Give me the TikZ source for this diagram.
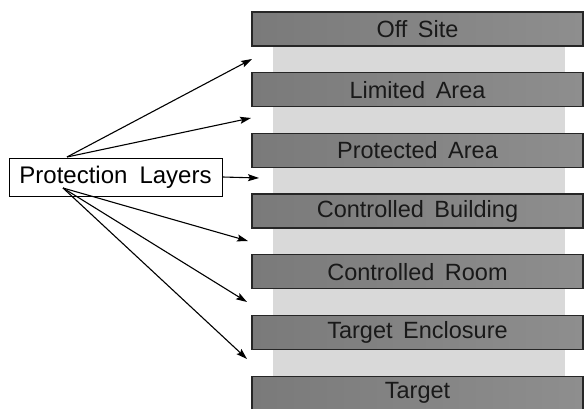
\documentclass[tikz,border=0pt]{standalone}
\usepackage{fontspec}
\setmainfont{Liberation Sans}
\usetikzlibrary{arrows.meta}
\definecolor{bardark}{HTML}{7A7A7A}
\definecolor{barmid}{HTML}{A8A8A8}
\definecolor{barright}{HTML}{8E8E8E}
\definecolor{strip}{HTML}{D9D9D9}
\begin{document}
\begin{tikzpicture}[x=1pt,y=-1pt,
  layerbar/.style={draw=black!85, line width=1.3pt, minimum width=331pt, minimum height=34pt,
    inner sep=0pt, left color=bardark, middle color=barmid, right color=barright,
    font=\fontsize{23.5}{26}\selectfont, text=black!90},
  lightstrip/.style={fill=strip, draw=none},
  labelbox/.style={draw, line width=0.9pt, minimum width=213pt, minimum height=38pt, inner sep=0pt,
    font=\fontsize{24}{28}\selectfont, fill=white},
  conn/.style={line width=1.1pt, -{Stealth[length=11pt,width=7pt,inset=2pt]}}
]
\useasboundingbox (0,0) rectangle (584,409);
% light strips between bars
\foreach \i in {0,...,5} {
  \fill[lightstrip] (273,{46+60.7*\i}) rectangle (565,{72+60.7*\i});
}
% bars
\node[layerbar] (b1) at (417.5,29) {Off\hspace{0.45em}Site};
\node[layerbar] (b2) at (417.5,89.7) {Limited\hspace{0.45em}Area};
\node[layerbar] (b3) at (417.5,150.4) {Protected\hspace{0.45em}Area};
\node[layerbar] (b4) at (417.5,211.1) {Controlled\hspace{0.45em}Building};
\node[layerbar] (b5) at (417.5,271.8) {Controlled\hspace{0.45em}Room};
\node[layerbar] (b6) at (417.5,332.5) {Target\hspace{0.45em}Enclosure};
\node[layerbar] (b7) at (417.5,393.2) {Target};
% label box
\node[labelbox] (pl) at (115.5,177) {Protection\hspace{0.5em}Layers};
\coordinate (up) at (67,157);
\coordinate (lo) at (63,188);
\coordinate (t1) at (252,59);
\coordinate (t2) at (251,118);
\coordinate (t3) at (259,178);
\coordinate (t4) at (248,241);
\coordinate (t5) at (247,302);
\coordinate (t6) at (247,359);
\draw[conn] (up) -- (t1);
\draw[conn] (up) -- (t2);
\draw[conn] (pl.east) -- (t3);
\draw[conn] (lo) -- (t4);
\draw[conn] (lo) -- (t5);
\draw[conn] (lo) -- (t6);
\end{tikzpicture}
\end{document}
